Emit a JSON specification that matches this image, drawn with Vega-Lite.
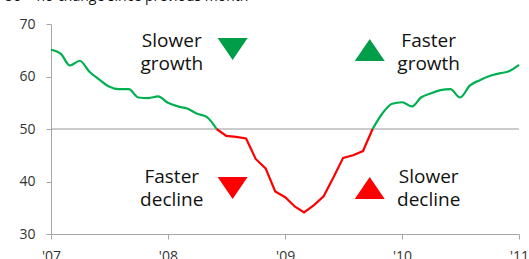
{
  "$schema": "https://vega.github.io/schema/vega-lite/v6.json",
  "width": 468,
  "height": 210,
  "autosize": "none",
  "padding": {"left": 51, "top": 24, "right": 10, "bottom": 25},
  "background": "white",
  "config": {"view": {"stroke": null}, "font": "Open Sans"},
  "encoding": {
    "x": {
      "field": "date", "type": "temporal",
      "scale": {"type": "utc", "domain": [{"year": 2007, "month": 1, "date": 1, "utc": true}, {"year": 2011, "month": 1, "date": 1, "utc": true}]},
      "axis": {
        "title": null, "format": "'%y", "grid": false,
        "values": [{"year": 2007, "utc": true}, {"year": 2008, "utc": true}, {"year": 2009, "utc": true}, {"year": 2010, "utc": true}, {"year": 2011, "utc": true}],
        "domainColor": "#a6a6a6", "tickColor": "#a6a6a6", "tickSize": 5,
        "labelFontSize": 14, "labelColor": "#333333", "labelPadding": 10,
        "labelFlush": false, "labelOverlap": false
      }
    },
    "y": {
      "field": "value", "type": "quantitative",
      "scale": {"domain": [30, 70], "nice": false, "zero": false},
      "axis": {
        "title": null, "grid": false, "values": [30, 40, 50, 60, 70],
        "domainColor": "#a6a6a6", "tickColor": "#a6a6a6", "tickSize": 5,
        "labelFontSize": 14, "labelColor": "#333333", "labelPadding": 11
      }
    }
  },
  "layer": [
    {
      "data": {"values": [{"date": "2007-01-01", "value": 50}, {"date": "2011-01-01", "value": 50}]},
      "mark": {"type": "line", "color": "#999999", "strokeWidth": 1.2},
      "encoding": {}
    },
    {
      "data": {"values": [
        {"date": "2007-01-01", "value": 65.1, "seg": "g1"},
        {"date": "2007-02-01", "value": 64.3, "seg": "g1"},
        {"date": "2007-03-01", "value": 62.1, "seg": "g1"},
        {"date": "2007-04-01", "value": 63.0, "seg": "g1"},
        {"date": "2007-05-01", "value": 60.9, "seg": "g1"},
        {"date": "2007-06-01", "value": 59.4, "seg": "g1"},
        {"date": "2007-07-01", "value": 58.1, "seg": "g1"},
        {"date": "2007-08-01", "value": 57.6, "seg": "g1"},
        {"date": "2007-09-01", "value": 57.6, "seg": "g1"},
        {"date": "2007-10-01", "value": 56.0, "seg": "g1"},
        {"date": "2007-11-01", "value": 55.9, "seg": "g1"},
        {"date": "2007-12-01", "value": 56.2, "seg": "g1"},
        {"date": "2008-01-01", "value": 55.0, "seg": "g1"},
        {"date": "2008-02-01", "value": 54.3, "seg": "g1"},
        {"date": "2008-03-01", "value": 53.9, "seg": "g1"},
        {"date": "2008-04-01", "value": 52.9, "seg": "g1"},
        {"date": "2008-05-01", "value": 52.3, "seg": "g1"},
        {"date": "2008-06-01", "value": 50.0, "seg": "g1"},
        {"date": "2009-10-01", "value": 50.0, "seg": "g2"},
        {"date": "2009-11-01", "value": 53.0, "seg": "g2"},
        {"date": "2009-12-01", "value": 54.8, "seg": "g2"},
        {"date": "2010-01-01", "value": 55.1, "seg": "g2"},
        {"date": "2010-02-01", "value": 54.3, "seg": "g2"},
        {"date": "2010-03-01", "value": 56.0, "seg": "g2"},
        {"date": "2010-04-01", "value": 56.8, "seg": "g2"},
        {"date": "2010-05-01", "value": 57.4, "seg": "g2"},
        {"date": "2010-06-01", "value": 57.6, "seg": "g2"},
        {"date": "2010-07-01", "value": 56.0, "seg": "g2"},
        {"date": "2010-08-01", "value": 58.3, "seg": "g2"},
        {"date": "2010-09-01", "value": 59.3, "seg": "g2"},
        {"date": "2010-10-01", "value": 60.1, "seg": "g2"},
        {"date": "2010-11-01", "value": 60.6, "seg": "g2"},
        {"date": "2010-12-01", "value": 61.0, "seg": "g2"},
        {"date": "2011-01-01", "value": 62.2, "seg": "g2"}
      ]},
      "mark": {"type": "line", "color": "#00B050", "strokeWidth": 2.2, "interpolate": "monotone"},
      "encoding": {"detail": {"field": "seg"}}
    },
    {
      "data": {"values": [
        {"date": "2008-06-01", "value": 50.0},
        {"date": "2008-07-01", "value": 48.7},
        {"date": "2008-08-01", "value": 48.5},
        {"date": "2008-09-01", "value": 48.2},
        {"date": "2008-10-01", "value": 44.3},
        {"date": "2008-11-01", "value": 42.5},
        {"date": "2008-12-01", "value": 38.1},
        {"date": "2009-01-01", "value": 37.0},
        {"date": "2009-02-01", "value": 35.2},
        {"date": "2009-03-01", "value": 34.1},
        {"date": "2009-04-01", "value": 35.5},
        {"date": "2009-05-01", "value": 37.2},
        {"date": "2009-06-01", "value": 40.8},
        {"date": "2009-07-01", "value": 44.5},
        {"date": "2009-08-01", "value": 45.0},
        {"date": "2009-09-01", "value": 45.8},
        {"date": "2009-10-01", "value": 50.0}
      ]},
      "mark": {"type": "line", "color": "#FF0000", "strokeWidth": 2.2},
      "encoding": {}
    },
    {
      "data": {"values": [
        {"date": "2008-07-21", "value": 65.24, "dir": "down", "phase": "growth"},
        {"date": "2009-09-22", "value": 65.05, "dir": "up", "phase": "growth"},
        {"date": "2008-07-21", "value": 38.76, "dir": "down", "phase": "decline"},
        {"date": "2009-09-22", "value": 38.76, "dir": "up", "phase": "decline"}
      ]},
      "mark": {"type": "point", "filled": true, "opacity": 1, "size": 900, "strokeWidth": 0},
      "encoding": {
        "shape": {"field": "dir", "type": "nominal", "legend": null, "scale": {"domain": ["up", "down"], "range": ["M0,-0.74L1,0.74L-1,0.74Z", "M0,0.74L1,-0.74L-1,-0.74Z"]}},
        "color": {"field": "phase", "type": "nominal", "legend": null, "scale": {"domain": ["growth", "decline"], "range": ["#009E49", "#FF0000"]}}
      }
    },
    {
      "data": {"values": [
        {"date": "2008-01-13", "value": 66.85, "label": "Slower\ngrowth"},
        {"date": "2010-03-25", "value": 66.85, "label": "Faster\ngrowth"},
        {"date": "2008-01-13", "value": 40.95, "label": "Faster\ndecline"},
        {"date": "2010-03-25", "value": 40.95, "label": "Slower\ndecline"}
      ]},
      "mark": {"type": "text", "fontSize": 19, "lineHeight": 23.5, "align": "center", "baseline": "middle", "lineBreak": "\n", "color": "#111111"},
      "encoding": {"text": {"field": "label"}}
    },
    {
      "data": {"values": [{"date": "2006-08-11", "value": 74.4, "label": "50 = no change since previous month"}]},
      "mark": {"type": "text", "fontSize": 14, "align": "left", "baseline": "alphabetic", "color": "#111111"},
      "encoding": {"text": {"field": "label"}}
    }
  ]
}
